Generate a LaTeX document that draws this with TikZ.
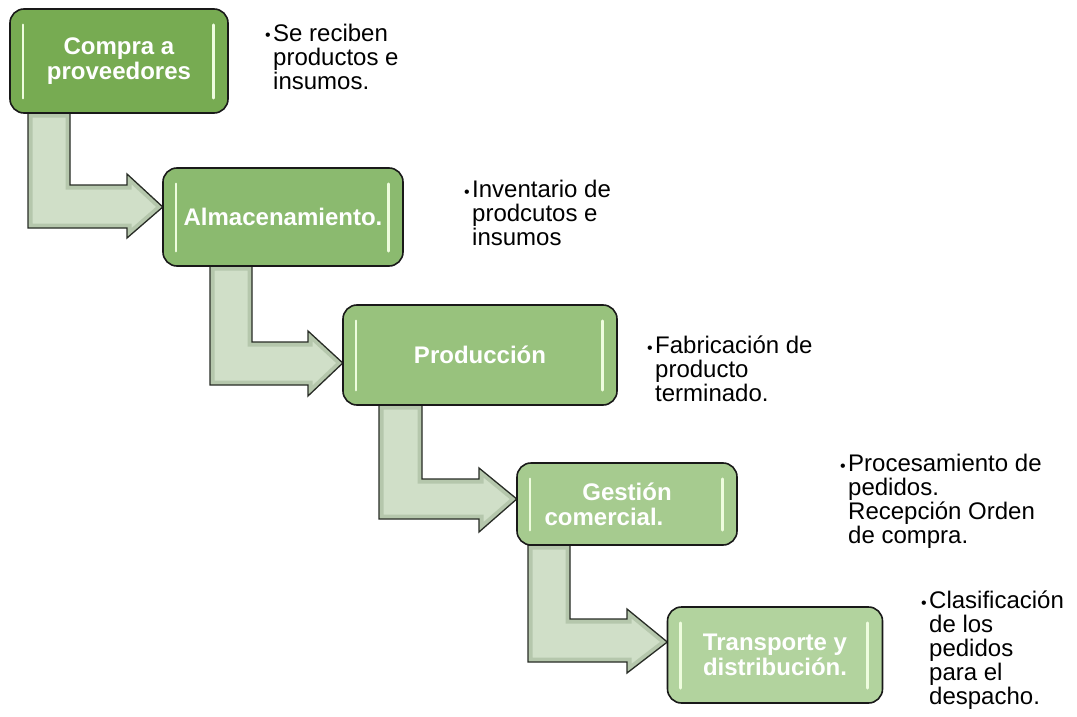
\documentclass[tikz,border=0pt]{standalone}
\usepackage{fontspec}
\setmainfont{Liberation Sans}
\usetikzlibrary{calc}
\definecolor{gA}{RGB}{119,171,82}
\definecolor{gB}{RGB}{139,186,111}
\definecolor{gC}{RGB}{152,194,125}
\definecolor{gD}{RGB}{166,203,143}
\definecolor{gE}{RGB}{178,211,158}
\definecolor{arrfill}{RGB}{208,223,200}
\definecolor{arrshade}{RGB}{160,180,150}
\definecolor{arredge}{RGB}{40,44,38}
\definecolor{glow}{RGB}{238,252,222}
\tikzset{
  stepbox/.style={draw=black!90, line width=1.6pt, rounded corners=14pt,
    text=white, align=center, inner sep=0pt,
    font=\fontsize{24pt}{25pt}\selectfont\bfseries},
  lshape/.style={draw=arredge, line width=1.3pt, line join=miter},
  lshade/.style={draw=arrshade, line width=9pt, opacity=0.55},
  glossline/.style={draw=glow, line width=2.6pt, line cap=round},
  note/.style={anchor=north west, align=left, inner sep=0pt,
    font=\fontsize{24pt}{24pt}\selectfont},
  dot/.style={anchor=base east, inner sep=0pt, font=\fontsize{16pt}{16pt}\selectfont}
}
\newcommand\firststrut{\rule{0pt}{20pt}}
\begin{document}
\begin{tikzpicture}[x=1pt,y=-1pt]
\useasboundingbox (0,0) rectangle (1077,717);

% box positions (named first)
\path (119,61) coordinate (c1) (283,217) coordinate (c2) (480,355) coordinate (c3)
      (627,504) coordinate (c4) (775,655) coordinate (c5);
\path (c1) node[minimum width=218pt, minimum height=104pt, inner sep=0pt] (b1) {};
\path (c2) node[minimum width=240pt, minimum height=98pt, inner sep=0pt] (b2) {};
\path (c3) node[minimum width=274pt, minimum height=100pt, inner sep=0pt] (b3) {};
\path (c4) node[minimum width=220pt, minimum height=82pt, inner sep=0pt] (b4) {};
\path (c5) node[minimum width=215pt, minimum height=96pt, inner sep=0pt] (b5) {};

% L-shaped arrows
\newcommand\arrA{(28,0 |- b1.south) -- (28,228) -- (127,228) -- (127,238) -- (b2.west |- 0,207)
  -- (127,174) -- (127,185) -- (70,185) -- (70,0 |- b1.south) -- cycle}
\newcommand\arrB{(210,0 |- b2.south) -- (210,385) -- (308,385) -- (308,396) -- (b3.west |- 0,363)
  -- (308,331) -- (308,342) -- (252,342) -- (252,0 |- b2.south) -- cycle}
\newcommand\arrC{(379,0 |- b3.south) -- (379,519) -- (479,519) -- (479,532) -- (b4.west |- 0,499)
  -- (479,468) -- (479,479) -- (422,479) -- (422,0 |- b3.south) -- cycle}
\newcommand\arrD{(528,0 |- b4.south) -- (528,662) -- (627,662) -- (627,673) -- (b5.west |- 0,642)
  -- (627,609) -- (627,619) -- (570,619) -- (570,0 |- b4.south) -- cycle}
\foreach \p in {\arrA,\arrB,\arrC,\arrD}{
  \fill[arrfill] \p;
  \begin{scope}
    \clip \p;
    \draw[lshade] \p;
  \end{scope}
  \draw[lshape] \p;
}

% boxes
\path (c1) node[stepbox, fill=gA, minimum width=218pt, minimum height=104pt] {Compra a\\proveedores};
\path (c2) node[stepbox, fill=gB, minimum width=240pt, minimum height=98pt] {Almacenamiento.};
\path (c3) node[stepbox, fill=gC, minimum width=274pt, minimum height=100pt] {Producción};
\path (c4) node[stepbox, fill=gD, minimum width=220pt, minimum height=82pt] {Gestión\\comercial.\hspace*{46pt}};
\path (c5) node[stepbox, fill=gE, minimum width=215pt, minimum height=96pt] {Transporte y\\distribución.};

% glossy highlights
\foreach \b in {b1,b2,b3,b4,b5}{
  \draw[glossline] ($(\b.north west)+(13,16)$) -- ($(\b.south west)+(13,-15)$);
  \draw[glossline] ($(\b.north east)+(-15,16)$) -- ($(\b.south east)+(-15,-15)$);
}

% notes
\node[dot] (d1) at (271,41) {•};
\node[note] (n1) at (273,21) {\firststrut Se reciben\\productos e\\insumos.};
\node[dot] (d2) at (470,197) {•};
\node[note] (n2) at (472,177) {\firststrut Inventario de\\prodcutos e\\insumos};
\node[dot] (d3) at (653,353) {•};
\node[note] (n3) at (655,333) {\firststrut Fabricación de\\producto\\terminado.};
\node[dot] (d4) at (846,471) {•};
\node[note] (n4) at (848,451) {\firststrut Procesamiento de\\pedidos.\\Recepción Orden\\de compra.};
\node[dot] (d5) at (927,608) {•};
\node[note] (n5) at (929,588) {\firststrut Clasificación\\de los\\pedidos\\para el\\despacho.};
\end{tikzpicture}
\end{document}
